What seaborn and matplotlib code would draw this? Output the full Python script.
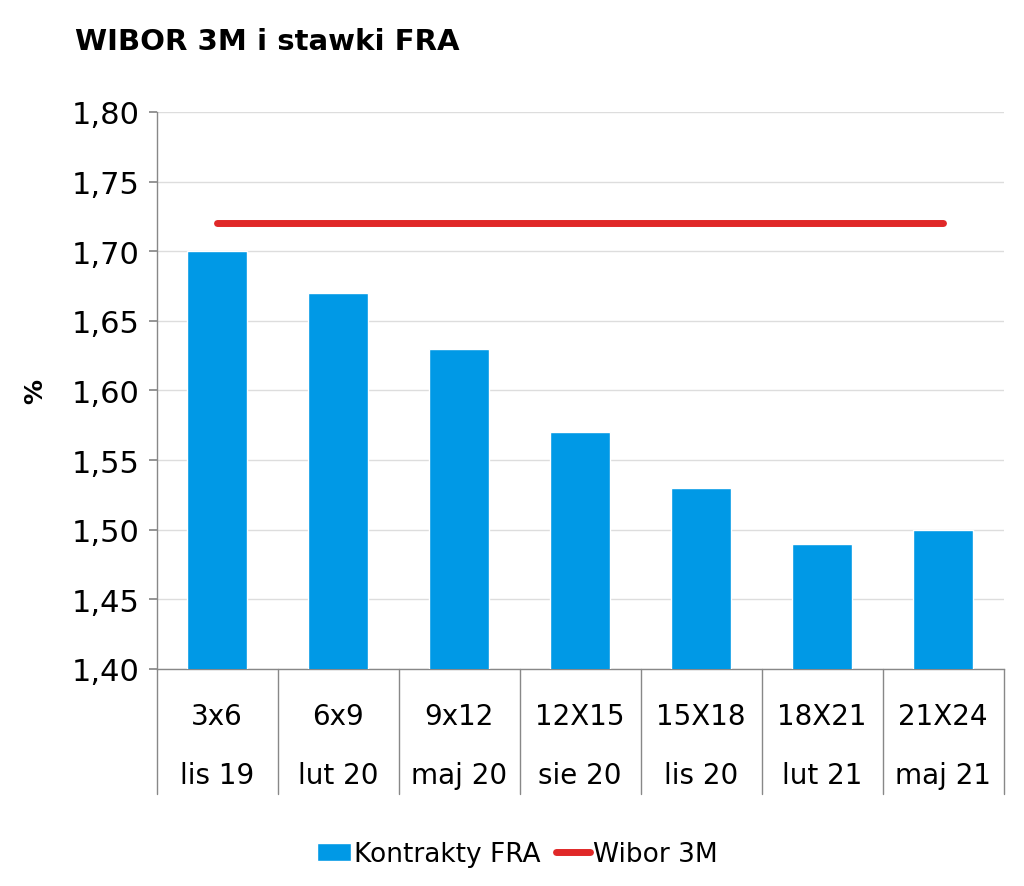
import numpy as np
import pandas as pd
import matplotlib
matplotlib.use("Agg")
import matplotlib.pyplot as plt
import matplotlib.transforms as mtransforms
from matplotlib.patches import Patch
from matplotlib.lines import Line2D
import seaborn as sns

CONTRACTS = ["3x6", "6x9", "9x12", "12X15", "15X18", "18X21", "21X24"]
DATES = ["lis 19", "lut 20", "maj 20", "sie 20", "lis 20", "lut 21", "maj 21"]
FRA = [1.70, 1.67, 1.63, 1.57, 1.53, 1.49, 1.50]
WIBOR = [1.72, 1.72, 1.72, 1.72, 1.72, 1.72, 1.72]
Y_TICKS = [1.40, 1.45, 1.50, 1.55, 1.60, 1.65, 1.70, 1.75, 1.80]

BAR_COLOR = "#0099E6"
LINE_COLOR = "#E02828"

sns.set_theme(style="white", rc={"font.family": "DejaVu Sans",
                                 "text.color": "black",
                                 "axes.labelcolor": "black",
                                 "ytick.color": "black"})

df = pd.DataFrame({"pos": range(len(CONTRACTS)), "FRA": FRA, "Wibor": WIBOR})

fig = plt.figure(figsize=(10.24, 8.87), dpi=100)
ax = fig.add_axes([0.153, 0.2447, 0.827, 0.628])

sns.barplot(data=df, x="pos", y="FRA", color=BAR_COLOR, width=0.5,
            saturation=1, ax=ax, zorder=3)
ax.plot(df["pos"], df["Wibor"], color=LINE_COLOR, lw=5,
        solid_capstyle="round", zorder=4)

ax.set_ylim(1.40, 1.80)
ax.set_xlim(-0.5, len(CONTRACTS) - 0.5)
ax.set_yticks(Y_TICKS)
ax.set_yticklabels([f"{v:.2f}".replace(".", ",") for v in Y_TICKS], fontsize=22)
ax.yaxis.grid(True, color="#DDDDDD", lw=1, zorder=0)
ax.tick_params(axis="y", which="major", left=True, length=6, color="#888888",
               direction="out", pad=6)
ax.set_xticks([])
ax.set_xlabel("")
ax.set_ylabel("%", fontsize=18, fontweight="bold", labelpad=18)

for s in ["top", "right"]:
    ax.spines[s].set_visible(False)
for s in ["left", "bottom"]:
    ax.spines[s].set_color("#888888")
    ax.spines[s].set_linewidth(1)

trans = mtransforms.blended_transform_factory(ax.transData, ax.transAxes)
for b in np.arange(len(CONTRACTS) + 1) - 0.5:
    ax.plot([b, b], [0, -0.224], color="#888888", lw=1, transform=trans,
            clip_on=False)
for i, (c, d) in enumerate(zip(CONTRACTS, DATES)):
    ax.text(i, -0.085, c, transform=trans, ha="center", va="center", fontsize=20)
    ax.text(i, -0.19, d, transform=trans, ha="center", va="center", fontsize=20)

fig.text(0.073, 0.953, "WIBOR 3M i stawki FRA", fontsize=21, fontweight="bold",
         va="center", ha="left")

handles = [Patch(facecolor=BAR_COLOR, label="Kontrakty FRA"),
           Line2D([0], [0], color=LINE_COLOR, lw=5, label="Wibor 3M")]
fig.legend(handles=handles, loc="center", bbox_to_anchor=(0.505, 0.036), ncol=2,
           frameon=False, fontsize=19, handlelength=1.3, columnspacing=0.6,
           handletextpad=0.1)

fig.savefig("out.png", dpi=100)
